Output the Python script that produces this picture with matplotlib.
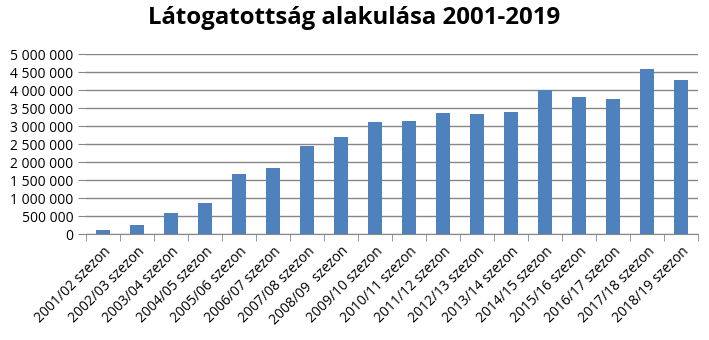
import numpy as np
import matplotlib.pyplot as plt
from matplotlib.ticker import FuncFormatter, FixedLocator

seasons = ["2001/02 szezon", "2002/03 szezon", "2003/04 szezon", "2004/05 szezon",
           "2005/06 szezon", "2006/07 szezon", "2007/08 szezon", "2008/09  szezon",
           "2009/10 szezon", "2010/11 szezon", "2011/12 szezon", "2012/13 szezon",
           "2013/14 szezon", "2014/15 szezon", "2015/16 szezon", "2016/17 szezon",
           "2017/18 szezon", "2018/19 szezon"]
visitors = [120000, 260000, 590000, 870000, 1676000, 1840000, 2450000, 2700000,
            3120000, 3150000, 3370000, 3340000, 3400000, 4000000, 3810000, 3760000,
            4580000, 4290000]

plt.rcParams['font.family'] = ['Open Sans', 'DejaVu Sans']

fig = plt.figure(figsize=(7.09, 3.4), dpi=100)
ax = fig.add_axes([86 / 709, 1 - 234 / 340, (698 - 86) / 709, (234 - 54) / 340])

x = np.arange(len(seasons))
ax.bar(x, visitors, width=0.41, color='#4f81bd', zorder=3)

ax.set_xlim(-0.5, len(seasons) - 0.5)
ax.set_ylim(0, 5000000)
ax.set_yticks(np.arange(0, 5000001, 500000))
ax.yaxis.set_major_formatter(FuncFormatter(lambda v, p: f"{int(v):,}".replace(",", " ")))
ax.grid(axis='y', color='#868686', linewidth=1, zorder=0)

ax.set_xticks(x)
ax.set_xticklabels(seasons, rotation=45, ha='right', rotation_mode='anchor', fontsize=10)
ax.tick_params(axis='x', length=0, pad=7)
ax.xaxis.set_minor_locator(FixedLocator(np.arange(-0.5, len(seasons), 1)))
ax.tick_params(axis='x', which='minor', length=5, color='#868686')
ax.tick_params(axis='y', length=6, color='#868686', labelsize=10, pad=3)

for s in ['top', 'right', 'left']:
    ax.spines[s].set_visible(False)
ax.spines['bottom'].set_color('#868686')

fig.text(0.5, 1 - 18 / 340, "Látogatottság alakulása 2001-2019", ha='center', va='center',
         fontsize=17.3, fontweight='bold')

fig.savefig('out.png', dpi=100)
